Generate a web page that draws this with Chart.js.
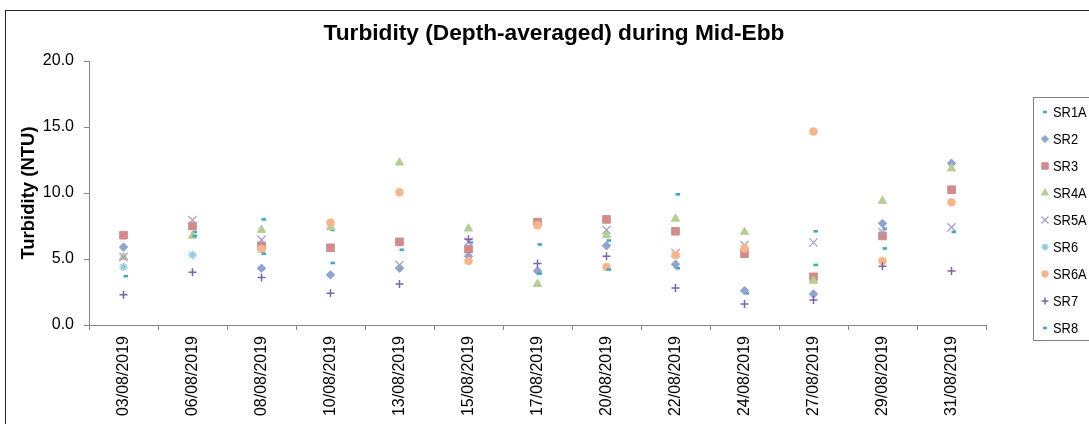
<!DOCTYPE html>
<html>
<head>
<meta charset="utf-8">
<script src="https://cdn.jsdelivr.net/npm/chart.js@4/dist/chart.umd.min.js"></script>
<style>
html,body{margin:0;padding:0;background:#fff;}
#wrap{width:1089px;height:424px;position:relative;overflow:hidden;}
</style>
</head>
<body>
<div id="wrap"><canvas id="c" width="1089" height="424"></canvas></div>
<script>
const categories = ["03/08/2019","06/08/2019","08/08/2019","10/08/2019","13/08/2019","15/08/2019","17/08/2019","20/08/2019","22/08/2019","24/08/2019","27/08/2019","29/08/2019","31/08/2019"];
const seriesNames = ["SR1A","SR2","SR3","SR4A","SR5A","SR6","SR6A","SR7","SR8"];
const SR1A = [3.7, 7.05, 8.0, 7.2, 5.7, 6.25, 6.1, 6.4, 9.9, 2.4, 7.1, 7.3, 10.2];
const SR2  = [5.9, null, 4.3, 3.8, 4.3, 5.2, 4.1, 6.0, 4.6, 2.6, 2.35, 7.7, 12.25];
const SR3  = [6.8, 7.5, 6.0, 5.85, 6.3, 5.75, 7.8, 8.0, 7.1, 5.4, 3.65, 6.75, 10.25];
const SR4A = [5.15, 6.75, 7.2, 7.4, 12.3, 7.3, 3.1, 6.8, 8.05, 7.05, 3.35, 9.4, 11.85];
const SR5A = [5.15, 7.95, 6.45, null, 4.55, 6.3, null, 7.2, 5.45, 6.05, 6.25, 7.05, 7.4];
const SR6  = [4.4, 5.3, null, null, null, null, null, null, null, null, null, null, null];
const SR6A = [null, null, 5.75, 7.75, 10.05, 4.85, 7.55, 4.4, 5.3, 5.8, 14.65, 4.85, 9.3];
const SR7  = [2.3, 4.0, 3.6, 2.4, 3.1, 6.5, 4.65, 5.2, 2.8, 1.6, 1.9, 4.45, 4.1];
const SR8  = [null, 6.75, 5.4, 4.7, null, null, 3.9, 4.2, 4.3, null, 4.55, 5.8, 7.05];
const yTicks = [0, 5, 10, 15, 20];

const values = [SR1A, SR2, SR3, SR4A, SR5A, SR6, SR6A, SR7, SR8];
const styles = [
  {c:'#3FA9C9', s:'dash', r:4.5, w:2.6},
  {c:'#8EA4D3', s:'rectRot', r:4.2, w:1},
  {c:'#D28B8B', s:'rect', r:5.4, w:1},
  {c:'#B6CE92', s:'triangle', r:4.8, w:1},
  {c:'#AA9EC8', s:'crossRot', r:5.8, w:1.3},
  {c:'#8ECBDD', s:'star', r:4.2, w:1.5},
  {c:'#F8B48A', s:'circle', r:4.0, w:0.5},
  {c:'#7F63A8', s:'cross', r:4.0, w:1.5},
  {c:'#3FA9C9', s:'dash', r:4.5, w:2.6}
];

const datasets = seriesNames.map((n, i) => ({
  label: n,
  data: values[i],
  showLine: false,
  order: -i,
  pointStyle: styles[i].s,
  pointRadius: styles[i].r,
  pointHoverRadius: styles[i].r,
  pointBorderWidth: styles[i].w,
  pointBackgroundColor: styles[i].c,
  pointBorderColor: styles[i].c,
  borderColor: styles[i].c,
  backgroundColor: styles[i].c
}));

const FONT = "'Liberation Sans', Arial, sans-serif";

const framePlugin = {
  id: 'frame',
  beforeDraw(chart) {
    const ctx = chart.ctx;
    ctx.save();
    ctx.fillStyle = '#fff';
    ctx.fillRect(0, 0, chart.width, chart.height);
    ctx.strokeStyle = '#262626';
    ctx.lineWidth = 1;
    ctx.strokeRect(5.5, 10.5, 3000, 3000);
    ctx.restore();
  },
  afterDraw(chart) {
    const ctx = chart.ctx;
    ctx.save();
    // title
    ctx.fillStyle = '#000';
    ctx.font = "bold 22.7px " + FONT;
    ctx.textAlign = 'center';
    ctx.textBaseline = 'middle';
    ctx.fillText('Turbidity (Depth-averaged) during Mid-Ebb', 554, 34);
    // legend box
    ctx.strokeStyle = '#7f7f7f';
    ctx.lineWidth = 1;
    ctx.strokeRect(1033.5, 97.5, 200, 243);
    const top = 112, step = 27;
    chart.data.datasets.forEach((ds, i) => {
      const y = top + i * step;
      const st = styles[i];
      ctx.fillStyle = st.c;
      ctx.strokeStyle = st.c;
      ctx.lineWidth = st.w;
      const px = st.s === 'dash' ? 1043 : 1045;
      Chart.helpers.drawPoint(ctx, {pointStyle: st.s, radius: st.r * 0.85, borderWidth: st.w, rotation: 0}, px, y);
      ctx.fillStyle = '#000';
      ctx.font = "15px " + FONT;
      ctx.textAlign = 'left';
      ctx.textBaseline = 'middle';
      ctx.save();
      ctx.translate(1053, y + 1);
      ctx.scale(0.86, 1);
      ctx.fillText(ds.label, 0, 0);
      ctx.restore();
    });
    ctx.restore();
  }
};

new Chart(document.getElementById('c'), {
  type: 'line',
  data: { labels: categories, datasets },
  options: {
    responsive: false,
    animation: false,
    events: [],
    layout: { padding: { top: 61, right: 103, left: 0, bottom: 0 } },
    plugins: { legend: { display: false }, title: { display: false }, tooltip: { enabled: false } },
    scales: {
      x: {
        type: 'category',
        offset: true,
        grid: { offset: true, drawOnChartArea: false, drawTicks: true, tickLength: 5, color: '#868686' },
        border: { color: '#868686', width: 1 },
        ticks: { minRotation: 90, maxRotation: 90, autoSkip: false, padding: 6, color: '#000', font: { family: FONT, size: 16 } },
        afterFit(scale) { scale.height = 99; }
      },
      y: {
        min: 0, max: 20,
        afterBuildTicks(scale) { scale.ticks = yTicks.map(v => ({ value: v })); },
        grid: { drawOnChartArea: false, drawTicks: true, tickLength: 5, color: '#868686' },
        border: { color: '#868686', width: 1 },
        ticks: { padding: 10, color: '#000', font: { family: FONT, size: 16 }, callback: v => Number(v).toFixed(1) },
        title: { display: true, text: 'Turbidity (NTU)', color: '#000', padding: { top: 18, bottom: 0 }, font: { family: FONT, size: 18.5, weight: 'bold' } },
        afterFit(scale) { scale.width = 89; }
      }
    }
  },
  plugins: [framePlugin]
});
</script>
</body>
</html>
